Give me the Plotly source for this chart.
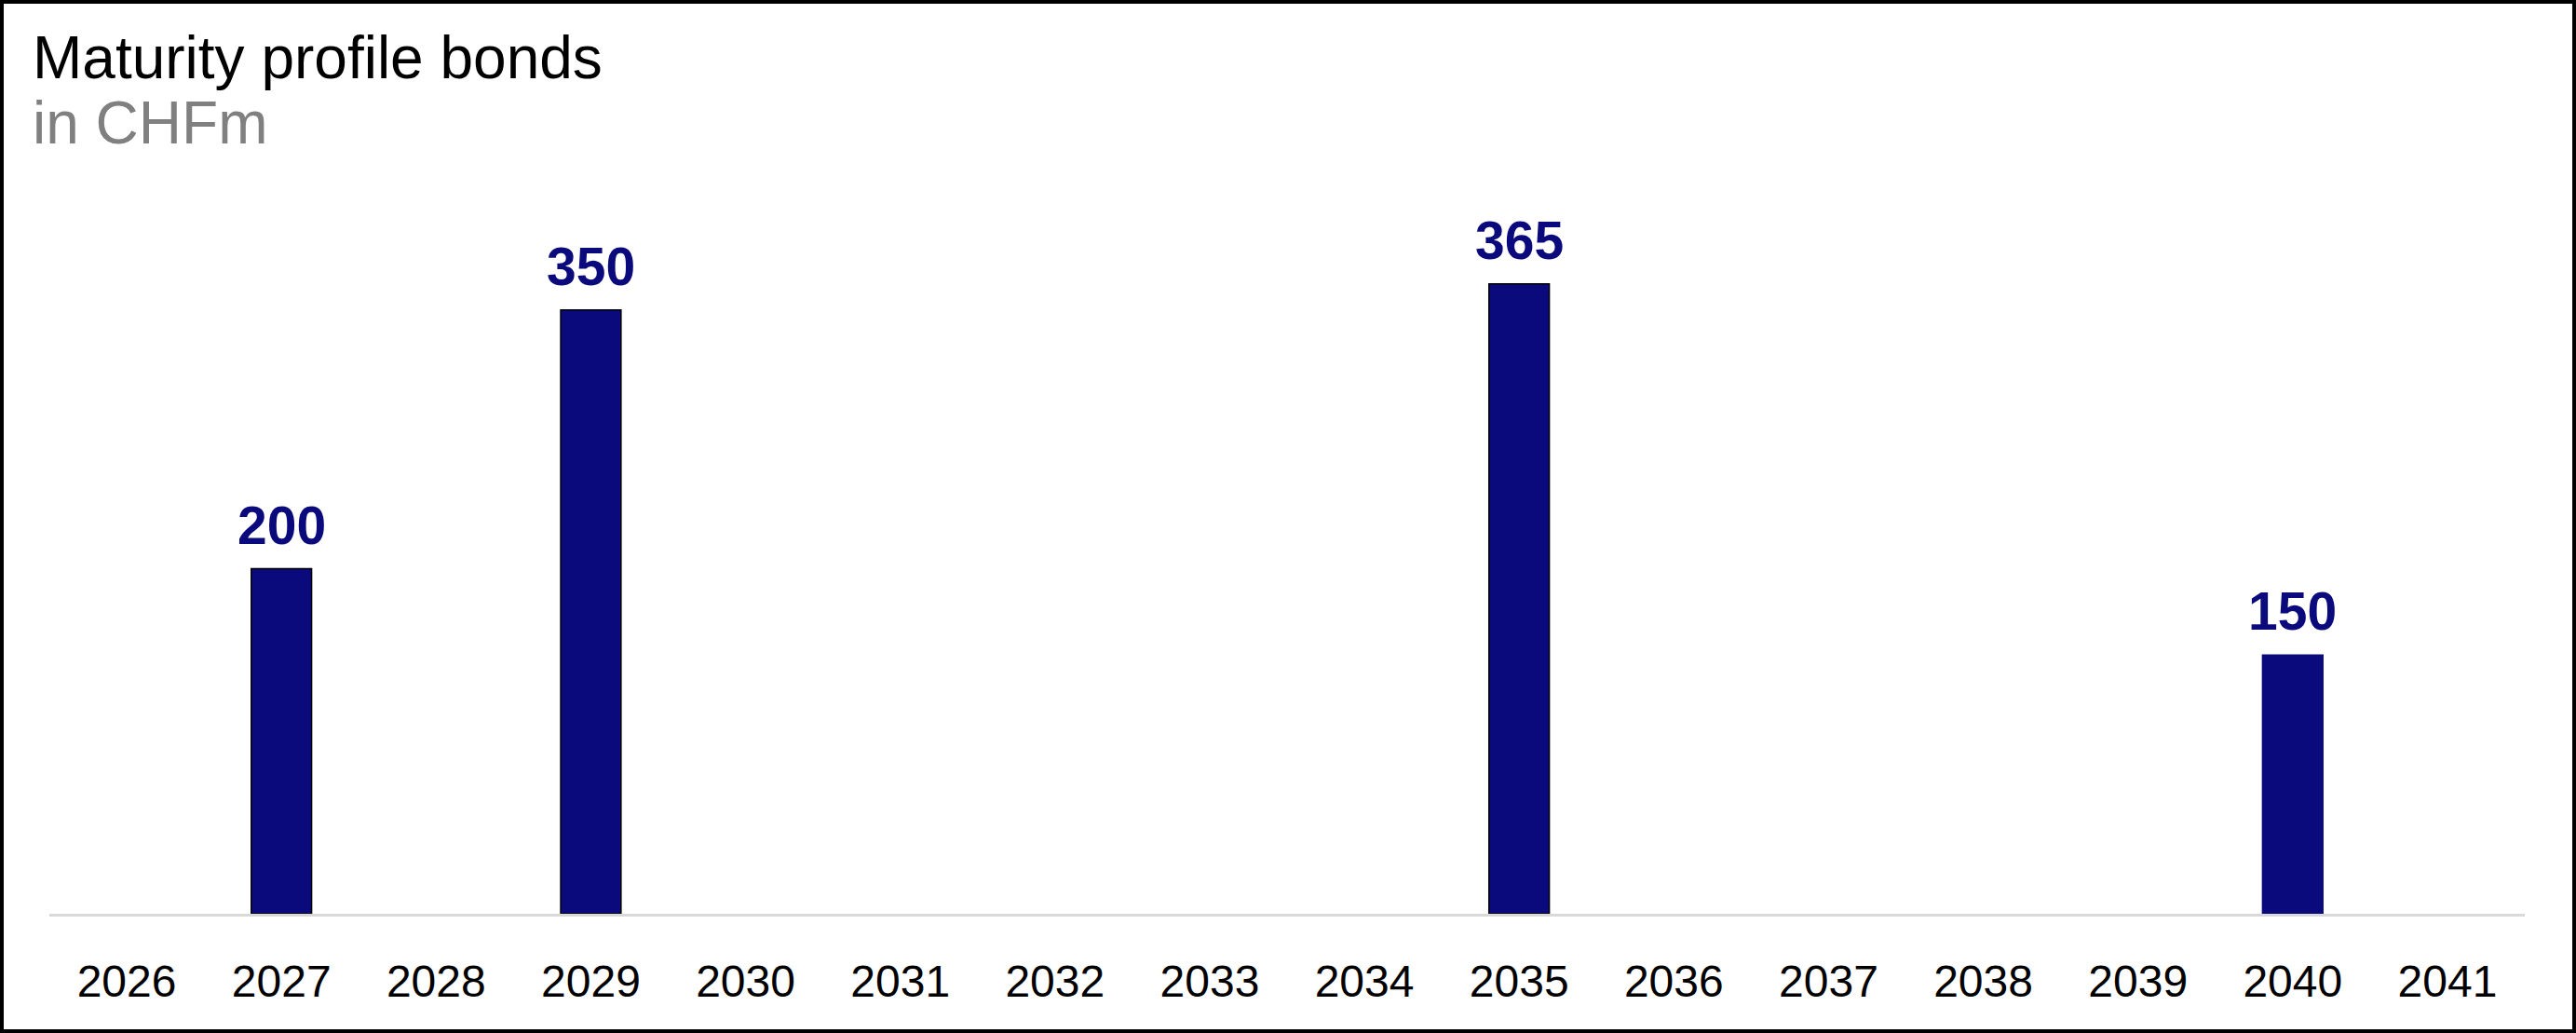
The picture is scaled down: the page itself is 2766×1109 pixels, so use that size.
import plotly.graph_objects as go

# data (CHF millions maturing per year)
years = ["2026", "2027", "2028", "2029", "2030", "2031", "2032", "2033",
         "2034", "2035", "2036", "2037", "2038", "2039", "2040", "2041"]
amounts = [None, 200, None, 350, None, None, None, None,
           None, 365, None, None, None, None, 150, None]

title_text = "Maturity profile bonds"
subtitle_text = "in CHFm"

W, H = 2766, 1109
ML, MR, MT, MB = 53, 55, 240, 128
PW = W - ML - MR
PH = H - MT - MB
Y_MAX = 400

NAVY = "#0a0a7d"
FONT = "Liberation Sans, Arial, sans-serif"


def px_x(px):
    return (px - ML) / PW


def px_y(py):
    return (H - MB - py) / PH


# last bar in the reference has no dark outline
outline = ["black" if y != "2040" else NAVY for y in years]

fig = go.Figure()
fig.add_trace(go.Bar(
    x=years,
    y=amounts,
    marker=dict(color=NAVY, line=dict(color=outline, width=1.5)),
    width=0.39,
    hoverinfo="x+y",
))

# value labels above the bars (category index, so "2027" is not read as a number)
for i, v in enumerate(amounts):
    if v is None:
        continue
    fig.add_annotation(
        x=i, y=v, text=str(v), showarrow=False,
        xanchor="center", yanchor="bottom", yshift=13,
        font=dict(family=FONT, size=57, color=NAVY, weight="bold"),
    )

fig.add_annotation(
    xref="paper", yref="paper", x=px_x(33), y=px_y(62),
    xanchor="left", yanchor="middle", showarrow=False,
    text=title_text, font=dict(family=FONT, size=64, color="black"),
)
fig.add_annotation(
    xref="paper", yref="paper", x=px_x(33), y=px_y(132),
    xanchor="left", yanchor="middle", showarrow=False,
    text=subtitle_text, font=dict(family=FONT, size=64, color="#808080"),
)

# frame around the whole picture
fig.add_shape(
    type="rect", xref="paper", yref="paper",
    x0=px_x(2), x1=px_x(W - 2), y0=px_y(H - 2), y1=px_y(2),
    line=dict(color="black", width=4), fillcolor="rgba(0,0,0,0)",
    layer="above",
)

fig.update_layout(
    width=W, height=H,
    margin=dict(l=ML, r=MR, t=MT, b=MB),
    paper_bgcolor="white",
    plot_bgcolor="white",
    showlegend=False,
    font=dict(family=FONT, color="black"),
    xaxis=dict(
        type="category",
        categoryorder="array", categoryarray=years,
        range=[-0.5, len(years) - 0.5],
        showline=True, linecolor="#d9d9d9", linewidth=3,
        showgrid=False, zeroline=False,
        ticks="outside", ticklen=28, tickcolor="rgba(0,0,0,0)",
        tickfont=dict(size=48, color="black"),
    ),
    yaxis=dict(
        range=[0, Y_MAX], visible=False,
        showgrid=False, zeroline=False,
    ),
)

fig.write_html("out.html", config={"displayModeBar": False},
               post_script="document.body.style.margin='0';")
